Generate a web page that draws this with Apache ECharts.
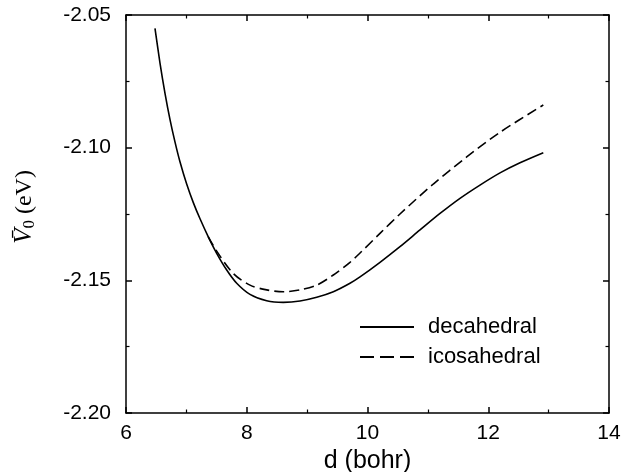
<!DOCTYPE html>
<html>
<head>
<meta charset="utf-8">
<script src="https://cdn.jsdelivr.net/npm/echarts@6/dist/echarts.min.js"></script>
<style>html,body{margin:0;padding:0;background:#fff}#c{width:623px;height:472px}</style>
</head>
<body>
<div id="c"></div>
<script>
var decaD = [6.480, 6.563, 6.646, 6.729, 6.812, 6.894, 7.005, 7.115, 7.226, 7.363, 7.502, 7.668, 7.834, 8.054, 8.330, 8.605, 8.882, 9.159, 9.434, 9.710, 9.876, 10.207, 10.538, 10.870, 11.201, 11.532, 11.863, 12.195, 12.526, 12.912];
var decaV = [-2.0550, -2.0681, -2.0795, -2.0894, -2.0979, -2.1053, -2.1137, -2.1207, -2.1268, -2.1336, -2.1398, -2.1461, -2.1511, -2.1553, -2.1577, -2.1583, -2.1578, -2.1564, -2.1543, -2.1511, -2.1487, -2.1432, -2.1373, -2.1310, -2.1248, -2.1191, -2.1141, -2.1095, -2.1057, -2.1019];
var icoD = [7.363, 7.502, 7.777, 8.054, 8.330, 8.605, 8.882, 9.159, 9.434, 9.710, 9.876, 10.207, 10.538, 11.090, 11.643, 12.195, 12.912];
var icoV = [-2.1336, -2.1390, -2.1474, -2.1518, -2.1536, -2.1543, -2.1536, -2.1518, -2.1480, -2.1432, -2.1397, -2.1323, -2.1250, -2.1137, -2.1035, -2.0942, -2.0839];
var xTicks = [6, 8, 10, 12, 14];
var yTicks = [-2.20, -2.15, -2.10, -2.05];
var seriesNames = ['decahedral', 'icosahedral'];

function pairs(xs, ys) { return xs.map(function (x, i) { return [x, ys[i]]; }); }

var chart = echarts.init(document.getElementById('c'), null, { renderer: 'canvas' });
var SANS = 'Liberation Sans, Arial, Helvetica, sans-serif';
var SERIF = 'Liberation Serif, Times New Roman, serif';
function axisLine() { return { show: true, onZero: false, lineStyle: { color: '#000', width: 1.5 } }; }
function tick() { return { show: true, inside: true, length: 6, lineStyle: { color: '#000', width: 1.5 } }; }
function minor() { return { show: true, splitNumber: 2, length: 3.5, lineStyle: { color: '#000', width: 1.2 } }; }

chart.setOption({
  animation: false,
  backgroundColor: '#fff',
  grid: { left: 126, right: 14, top: 15, bottom: 59, containLabel: false, outerBoundsMode: 'none' },
  xAxis: [{
    type: 'value', min: xTicks[0], max: xTicks[xTicks.length - 1], interval: 2,
    position: 'bottom',
    axisLine: axisLine(), axisTick: tick(), minorTick: minor(),
    axisLabel: { margin: 10, color: '#000', fontSize: 21, fontFamily: SANS, formatter: function (v) { return String(v); } },
    splitLine: { show: false },
    name: 'd (bohr)', nameLocation: 'middle', nameGap: 32,
    nameTextStyle: { color: '#000', fontSize: 25, fontFamily: SANS }
  }, {
    type: 'value', min: xTicks[0], max: xTicks[xTicks.length - 1], interval: 2,
    position: 'top',
    axisLine: axisLine(), axisTick: tick(), minorTick: minor(),
    axisLabel: { show: false }, splitLine: { show: false }
  }],
  yAxis: [{
    type: 'value', min: yTicks[0], max: yTicks[yTicks.length - 1], interval: 0.05,
    position: 'left',
    axisLine: axisLine(), axisTick: tick(), minorTick: minor(),
    axisLabel: { margin: 15, color: '#000', fontSize: 21, fontFamily: SANS, formatter: function (v) { return v.toFixed(2); } },
    splitLine: { show: false },
    name: '{v|V\u0304}{s|0}{t| (eV)}', nameLocation: 'middle', nameGap: 88, nameRotate: 90,
    nameTextStyle: {
      color: '#000', fontFamily: SERIF, fontSize: 24, padding: [0, 0, 0, 14],
      rich: {
        v: { fontFamily: SERIF, fontSize: 25, fontStyle: 'italic', color: '#000' },
        s: { fontFamily: SERIF, fontSize: 17, color: '#000', verticalAlign: 'bottom', padding: [10, 0, 0, 0] },
        t: { fontFamily: SERIF, fontSize: 24, color: '#000' }
      }
    }
  }, {
    type: 'value', min: yTicks[0], max: yTicks[yTicks.length - 1], interval: 0.05,
    position: 'right',
    axisLine: axisLine(), axisTick: tick(), minorTick: minor(),
    axisLabel: { show: false }, splitLine: { show: false }
  }],
  legend: {
    show: true, padding: 0,
    orient: 'vertical', left: 359, top: 316,
    itemWidth: 54, itemHeight: 14, itemGap: 8,
    itemStyle: { opacity: 0 },
    textStyle: { color: '#000', fontSize: 22, fontFamily: SANS, padding: [0, 0, 0, 9] },
    data: [
      { name: seriesNames[0] },
      { name: seriesNames[1], lineStyle: { type: [14, 6] } }
    ]
  },
  series: [{
    name: seriesNames[0], type: 'line', data: pairs(decaD, decaV), smooth: 0.3,
    showSymbol: false, symbol: 'none', xAxisIndex: 0, yAxisIndex: 0,
    lineStyle: { color: '#000', width: 1.6, type: 'solid' }, itemStyle: { color: '#000' }
  }, {
    name: seriesNames[1], type: 'line', data: pairs(icoD, icoV), smooth: 0.3,
    showSymbol: false, symbol: 'none', xAxisIndex: 0, yAxisIndex: 0,
    lineStyle: { color: '#000', width: 1.6, type: [10, 5] }, itemStyle: { color: '#000' }
  }]
});
</script>
</body>
</html>
